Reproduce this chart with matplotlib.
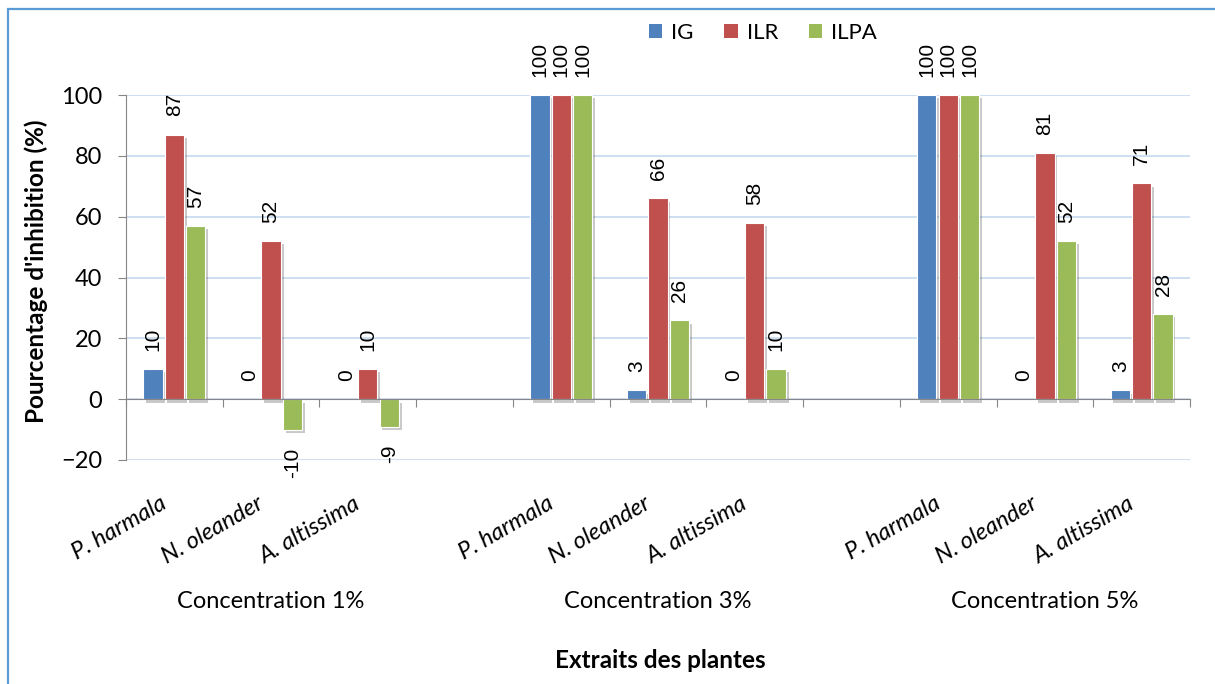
import matplotlib.pyplot as plt
import matplotlib.patheffects as pe
from matplotlib.patches import Patch, Rectangle
import numpy as np

plt.rcParams['font.family'] = ['Lato', 'DejaVu Sans']

plants = ["P. harmala", "N. oleander", "A. altissima"]
concentrations = ["Concentration 1%", "Concentration 3%", "Concentration 5%"]
series = ["IG", "ILR", "ILPA"]
colors = ["#4F81BD", "#C0504D", "#9BBB59"]

# values per concentration, order: P. harmala, N. oleander, A. altissima
IG = [10, 0, 0, 100, 3, 0, 100, 0, 3]
ILR = [87, 52, 10, 100, 66, 58, 100, 81, 71]
ILPA = [57, -10, -9, 100, 26, 10, 100, 52, 28]

# category slots: 3 plants, empty, 3 plants, empty, 3 plants
slots = np.array([0, 1, 2, 4, 5, 6, 8, 9, 10])

fig = plt.figure(figsize=(12.15, 6.84), dpi=100)
ax = fig.add_axes([126/1215, 1 - 460/684, (1190-126)/1215, 365/684])

shadow = [pe.SimplePatchShadow(offset=(2, -2.5), shadow_rgbFace=(0.3, 0.3, 0.3), alpha=0.3), pe.Normal()]
offsets = [-0.221, 0, 0.221]
for vals, off, col in zip([IG, ILR, ILPA], offsets, colors):
    bars = ax.bar(slots + off, vals, width=0.2, color=col, edgecolor='white', linewidth=0.8, zorder=3)
    for b, v in zip(bars, vals):
        if v != 0:
            b.set_path_effects(shadow)
    for x, v in zip(slots + off, vals):
        if v >= 0:
            ax.annotate(str(v), (x, v), xytext=(0, 13), textcoords='offset points', rotation=90,
                        ha='center', va='bottom', fontsize=15, family='Liberation Sans', annotation_clip=False)
        else:
            ax.annotate(str(v), (x, v), xytext=(0, -13), textcoords='offset points', rotation=90,
                        ha='center', va='top', fontsize=15, family='Liberation Sans', annotation_clip=False)

ax.set_xlim(-0.5, 10.5)
ax.set_ylim(-20, 100)
ax.set_yticks(np.arange(-20, 101, 20))
ax.yaxis.grid(True, color='#C6D9F0', linewidth=1.2, zorder=0)
ax.set_axisbelow(True)
ax.tick_params(axis='y', labelsize=17, direction='out', length=6, color='#868686', pad=11)

ax.set_xticks(np.arange(-0.5, 10.6, 1))
ax.set_xticklabels([])
ax.tick_params(axis='x', direction='out', length=6, color='#868686')

for s in ['top', 'right']:
    ax.spines[s].set_visible(False)
ax.spines['bottom'].set_position(('data', 0))
ax.spines['bottom'].set_color('#868686')
ax.spines['left'].set_color('#868686')
ax.spines['bottom'].set_zorder(4)

# plant labels
trans = ax.get_xaxis_transform()
for i, s in enumerate(slots):
    ax.text(s - 0.15, -0.09, plants[i % 3], transform=trans, rotation=30, rotation_mode='anchor',
            ha='right', va='top', fontsize=17, style='italic')

for c, s in zip(concentrations, [1, 5, 9]):
    ax.text(s, -0.389, c, transform=trans, ha='center', va='center', fontsize=17)

fig.text(660/1215, 1 - 660/684, "Extraits des plantes", ha='center', va='center', fontsize=17.5, fontweight='bold')
fig.text(36/1215, 1 - 271/684, "Pourcentage d'inhibition (%)", rotation=90, ha='center', va='center',
         fontsize=17.5, fontweight='bold')

handles = [Patch(facecolor=c, label=s) for c, s in zip(colors, series)]
fig.legend(handles=handles, loc='center', bbox_to_anchor=(763/1215, 1 - 33/684), ncol=3, frameon=False,
           fontsize=16, handlelength=0.6, handleheight=0.6, handletextpad=0.4, columnspacing=1.4)

fig.patches.append(Rectangle((8/1215, -0.1), 1.2, 1 - 9/684 + 0.1, transform=fig.transFigure,
                             fill=False, edgecolor='#5B9BD5', linewidth=1.6))

fig.savefig("out.png", dpi=100)
